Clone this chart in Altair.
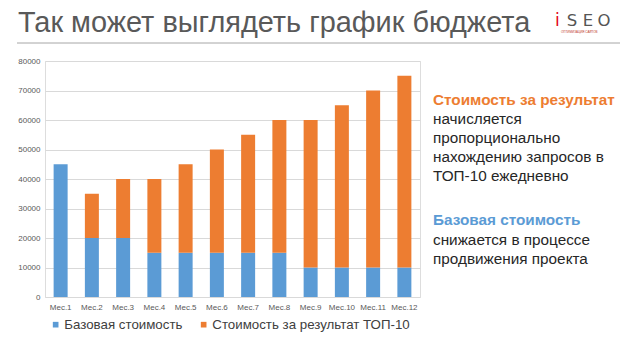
import altair as alt
import pandas as pd

months = ["Мес.1", "Мес.2", "Мес.3", "Мес.4", "Мес.5", "Мес.6",
          "Мес.7", "Мес.8", "Мес.9", "Мес.10", "Мес.11", "Мес.12"]
base_cost = [45000, 20000, 20000, 15000, 15000, 15000, 15000, 15000, 10000, 10000, 10000, 10000]
result_cost = [0, 15000, 20000, 25000, 30000, 35000, 40000, 45000, 50000, 55000, 60000, 65000]
series = ["Базовая стоимость", "Стоимость за результат ТОП-10"]
colors = ["#5B9BD5", "#ED7D31"]

title_text = "Так может выглядеть график бюджета"
orange_head = "Стоимость за результат"
orange_lines = ["начисляется", "пропорционально", "нахождению запросов в", "ТОП-10 ежедневно"]
blue_head = "Базовая стоимость"
blue_lines = ["снижается в процессе", "продвижения проекта"]
logo_letters = ["S", "E", "O"]

rows = []
for i, m in enumerate(months):
    rows.append({"month": m, "series": series[0], "value": base_cost[i], "ord": 0})
    rows.append({"month": m, "series": series[1], "value": result_cost[i], "ord": 1})
df = pd.DataFrame(rows)

W, H = 375, 236
FONT = "Liberation Sans"

bars = alt.Chart(df).mark_bar(size=14).encode(
    x=alt.X("month:N", sort=months, title=None,
            axis=alt.Axis(labelAngle=0, ticks=False, domain=False, labelFontSize=8,
                          labelColor="#595959", labelPadding=6, labelFont=FONT)),
    y=alt.Y("value:Q", stack="zero", title=None,
            scale=alt.Scale(domain=[0, 80000]),
            axis=alt.Axis(values=list(range(0, 80001, 10000)), format="d", ticks=False,
                          domain=False, labelFontSize=8, labelColor="#595959",
                          labelPadding=5, gridColor="#D9D9D9", labelFont=FONT)),
    color=alt.Color("series:N", scale=alt.Scale(domain=series, range=colors),
                    legend=alt.Legend(title=None, orient="none", direction="horizontal",
                                      legendX=4, legendY=257, symbolType="square",
                                      symbolSize=32, labelFontSize=13.3, labelColor="#404040",
                                      labelFont=FONT, columnPadding=14, symbolStrokeWidth=0,
                                      labelOffset=2, labelLimit=400)),
    order=alt.Order("ord:Q"),
)

def txt(text, x, y, size, color, weight="normal", align="left", baseline="middle", font=FONT):
    return alt.Chart(pd.DataFrame({"t": [text]})).mark_text(
        align=align, baseline=baseline, fontSize=size, color=color,
        fontWeight=weight, font=font
    ).encode(text="t:N", x=alt.value(x), y=alt.value(y))

layers = [bars]
layers.append(txt(title_text, -27, -29, 28.9, "#595959", baseline="alphabetic"))
layers.append(alt.Chart(pd.DataFrame({"a": [0]})).mark_rule(color="#A6A6A6", strokeWidth=1).encode(
    x=alt.value(-28), x2=alt.value(575), y=alt.value(-18)))

# logo
layers.append(txt("i", 510, -35, 17, "#E30613", baseline="alphabetic", font="DejaVu Sans"))
for k, letter in enumerate(logo_letters):
    layers.append(txt(letter, 527 + 16 * k, -35, 16.5, "#555555", align="center",
                      baseline="alphabetic", font="DejaVu Sans"))
layers.append(txt("ОПТИМИЗАЦИЯ САЙТОВ", 516, -30, 3, "#C0392B", baseline="top"))

ax = 388
FS = 15.3
layers.append(txt(orange_head, ax, 39, FS, "#ED7D31", "bold"))
for k, line in enumerate(orange_lines):
    layers.append(txt(line, ax, 58 + 19 * k, FS, "#262626"))
layers.append(txt(blue_head, ax, 159, FS, "#5B9BD5", "bold"))
for k, line in enumerate(blue_lines):
    layers.append(txt(line, ax, 179 + 19 * k, FS, "#262626"))

chart = alt.layer(*layers).properties(
    width=W, height=H,
    autosize=alt.AutoSizeParams(type="none"),
    padding={"left": 37, "top": 53, "right": 622 - 37 - W, "bottom": 343 - 53 - H},
).configure_view(stroke=None).configure(background="white")

chart.save("out.html", embed_options={"renderer": "svg", "actions": False})
